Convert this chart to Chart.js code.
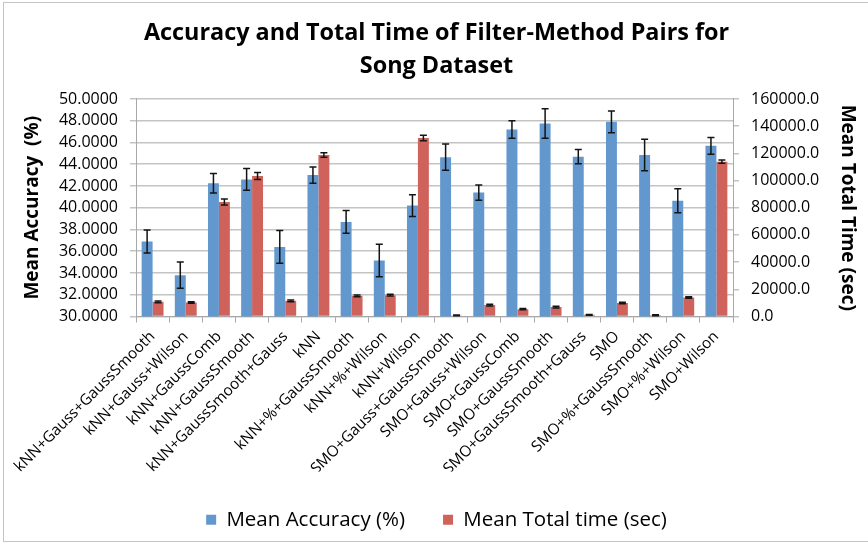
<!DOCTYPE html>
<html><head><meta charset="utf-8">
<script src="https://cdn.jsdelivr.net/npm/chart.js@4"></script>
<style>
html,body{margin:0;padding:0;background:#fff;overflow:hidden;}
#wrap{position:relative;width:868px;height:546px;}
#frame{position:absolute;left:3px;top:2px;width:900px;height:540px;border:1.5px solid #c4c4c4;box-sizing:border-box;pointer-events:none;}
canvas{position:absolute;left:0;top:0;}
</style></head><body>
<div id="wrap"><canvas id="c" width="868" height="546"></canvas><div id="frame"></div></div>
<script>
const categories = ['kNN+Gauss+GaussSmooth','kNN+Gauss+Wilson','kNN+GaussComb','kNN+GaussSmooth','kNN+GaussSmooth+Gauss','kNN','kNN+%+GaussSmooth','kNN+%+Wilson','kNN+Wilson','SMO+Gauss+GaussSmooth','SMO+Gauss+Wilson','SMO+GaussComb','SMO+GaussSmooth','SMO+GaussSmooth+Gauss','SMO','SMO+%+GaussSmooth','SMO+%+Wilson','SMO+Wilson'];
const accuracy = [36.9, 33.8, 42.25, 42.6, 36.4, 43.0, 38.7, 35.15, 40.2, 44.65, 41.4, 47.2, 47.75, 44.7, 47.9, 44.85, 40.65, 45.7];
const accuracyErr = [1.05, 1.2, 0.9, 1.0, 1.5, 0.75, 1.05, 1.5, 1.0, 1.2, 0.7, 0.8, 1.35, 0.65, 1.0, 1.45, 1.1, 0.77];
const totalTime = [10800, 10300, 84200, 103300, 11500, 118800, 15200, 15700, 131300, 800, 8400, 5400, 6900, 1200, 9900, 900, 14000, 113900];
const totalTimeErr = [600, 600, 2200, 2600, 700, 1600, 700, 700, 2100, 300, 600, 500, 600, 300, 600, 300, 600, 1200];
const accTickLabels = ['30.0000','32.0000','34.0000','36.0000','38.0000','40.0000','42.0000','44.0000','46.0000','48.0000','50.0000'];
const timeTickLabels = ['0.0','20000.0','40000.0','60000.0','80000.0','100000.0','120000.0','140000.0','160000.0'];
const titleLines = ['Accuracy and Total Time of Filter-Method Pairs for','Song Dataset'];

const FONT = "'Open Sans', 'Noto Sans', sans-serif";
Chart.defaults.font.family = FONT;
Chart.defaults.color = '#000';

const errorBars = {
  id: 'errorBars',
  afterDatasetsDraw(chart) {
    const ctx = chart.ctx;
    chart.data.datasets.forEach((ds, di) => {
      const meta = chart.getDatasetMeta(di);
      const scale = chart.scales[ds.yAxisID];
      ctx.save();
      ctx.strokeStyle = '#141414';
      ctx.lineWidth = 1.5;
      meta.data.forEach((bar, i) => {
        const v = ds.data[i], e = ds.errors[i];
        const x = bar.x;
        const y1 = scale.getPixelForValue(v + e), y2 = scale.getPixelForValue(v - e);
        ctx.beginPath();
        ctx.moveTo(x, y1); ctx.lineTo(x, y2);
        ctx.moveTo(x - 3.5, y1); ctx.lineTo(x + 3.5, y1);
        ctx.moveTo(x - 3.5, y2); ctx.lineTo(x + 3.5, y2);
        ctx.stroke();
      });
      ctx.restore();
    });
  }
};

const gridColor = '#c4c4c4';
new Chart(document.getElementById('c'), {
  type: 'bar',
  data: {
    labels: categories,
    datasets: [
      {label: 'Mean Accuracy (%)', data: accuracy, errors: accuracyErr, yAxisID: 'yAcc',
       backgroundColor: '#6398CE', categoryPercentage: 0.66, barPercentage: 1.0},
      {label: 'Mean Total time (sec)', data: totalTime, errors: totalTimeErr, yAxisID: 'yTime',
       backgroundColor: '#D0625C', categoryPercentage: 0.66, barPercentage: 1.0}
    ]
  },
  options: {
    responsive: false,
    animation: false,
    layout: {padding: {left: 10, right: 5, top: 1, bottom: 6}},
    plugins: {
      title: {display: true, text: titleLines, color: '#000',
        font: {family: FONT, size: 23.4, weight: 'bold', lineHeight: 1.41},
        padding: {top: 16, bottom: 16}},
      legend: {position: 'bottom',
        labels: {boxWidth: 10, boxHeight: 10, padding: 38, color: '#000', font: {family: FONT, size: 20.5}}},
      tooltip: {enabled: false}
    },
    scales: {
      x: {
        grid: {display: true, drawOnChartArea: false, drawTicks: true, tickLength: 6, color: '#a8a8a8', offset: true},
        border: {display: true, color: '#a8a8a8', width: 1},
        ticks: {minRotation: 45, maxRotation: 45, autoSkip: false, color: '#000', padding: 5, font: {family: FONT, size: 15.3}},
        afterFit(s) { s.height = 155; }
      },
      yAcc: {
        position: 'left', min: 30, max: 50,
        grid: {color: gridColor, lineWidth: 1.5, tickLength: 6, drawTicks: true},
        border: {display: true, color: '#a8a8a8', width: 1},
        ticks: {stepSize: 2, autoSkip: false, color: '#000', padding: 12, font: {family: FONT, size: 16},
          callback: (v, i) => accTickLabels[i]},
        title: {display: true, text: 'Mean Accuracy  (%)', color: '#000',
          font: {family: FONT, size: 19, weight: 'bold'}, padding: {top: 11.6, bottom: 0}},
        afterFit(s) { s.width = 126; }
      },
      yTime: {
        position: 'right', min: 0, max: 160000,
        grid: {drawOnChartArea: false, color: gridColor, lineWidth: 1.5, tickLength: 6, drawTicks: true},
        border: {display: true, color: '#a8a8a8', width: 1},
        ticks: {stepSize: 20000, autoSkip: false, color: '#000', padding: 12, font: {family: FONT, size: 16},
          callback: (v, i) => timeTickLabels[i]},
        title: {display: true, text: 'Mean Total Time (sec)', color: '#000',
          font: {family: FONT, size: 19, weight: 'bold'}, padding: {top: 4.6, bottom: 0}},
        afterFit(s) { s.width = 130; }
      }
    }
  },
  plugins: [errorBars]
});
</script>
</body></html>
